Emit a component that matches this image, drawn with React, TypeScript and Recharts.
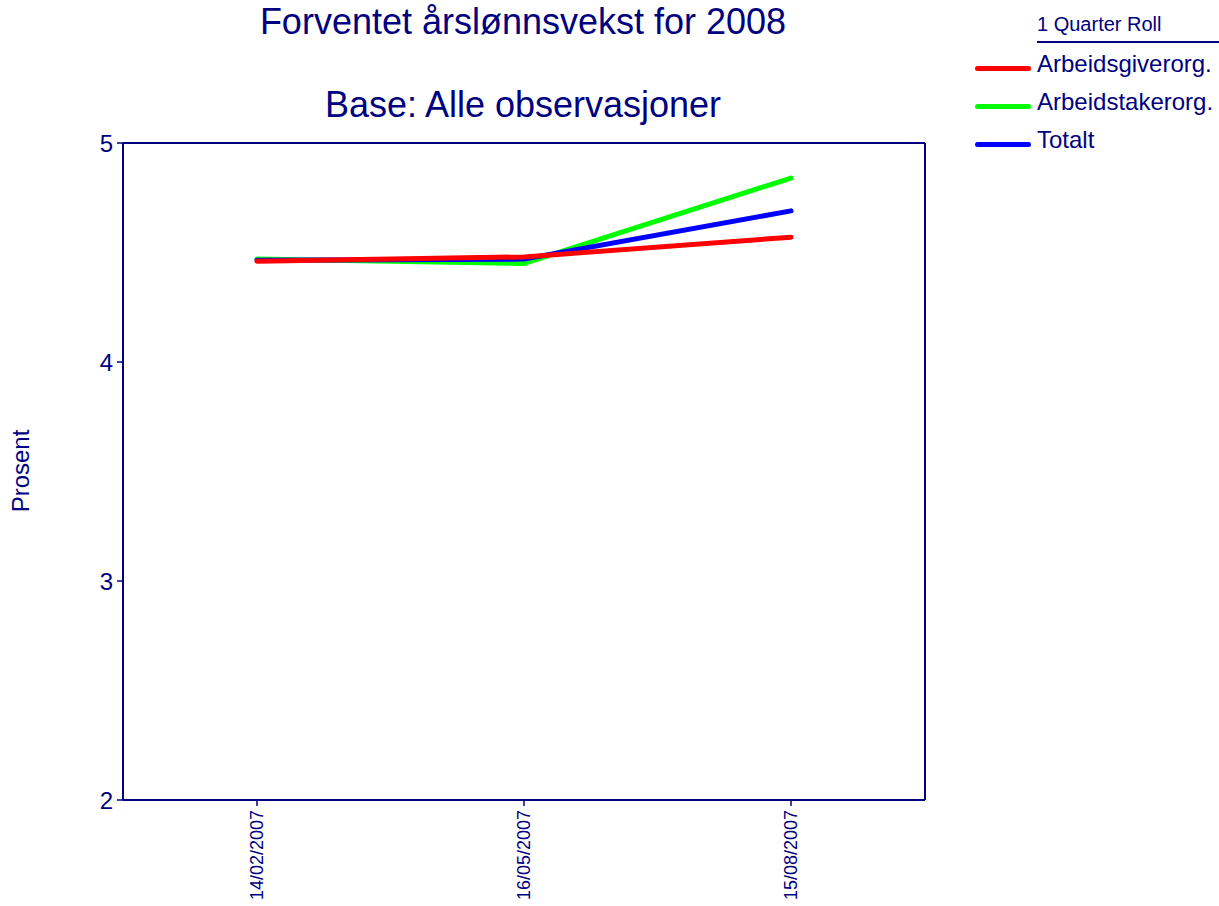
import React from "react";
import { LineChart, Line, XAxis, YAxis, CartesianGrid } from "recharts";

const categories = ["14/02/2007", "16/05/2007", "15/08/2007"];
const arbeidsgiver = [4.46, 4.48, 4.57];
const arbeidstaker = [4.47, 4.45, 4.84];
const totalt = [4.465, 4.47, 4.69];
const yTicks = [2, 3, 4, 5];

const data = categories.map((c, i) => ({
  date: c,
  giver: arbeidsgiver[i],
  taker: arbeidstaker[i],
  total: totalt[i],
}));

const NAVY = "#000080";
const FONT = "'Liberation Sans', Arial, sans-serif";

const legendItems = [
  { label: "Arbeidsgiverorg.", color: "#FF0000" },
  { label: "Arbeidstakerorg.", color: "#00FF00" },
  { label: "Totalt", color: "#0000FF" },
];

const XTick = (props: any) => {
  const { x, y, payload } = props;
  return (
    <text
      x={x}
      y={y + 2}
      transform={`rotate(-90, ${x}, ${y + 2})`}
      textAnchor="end"
      dy="0.36em"
      fill={NAVY}
      fontSize={18}
      fontFamily={FONT}
    >
      {payload.value}
    </text>
  );
};

export default function App() {
  return (
    <div
      style={{
        position: "absolute",
        left: 0,
        top: 0,
        width: 1219,
        height: 906,
        background: "#fff",
        fontFamily: FONT,
        overflow: "hidden",
      }}
    >
      <div
        style={{
          position: "absolute",
          left: 0,
          width: 1046,
          top: 2,
          textAlign: "center",
          fontSize: 36,
          color: NAVY,
          lineHeight: "40px",
        }}
      >
        Forventet årslønnsvekst for 2008
      </div>
      <div
        style={{
          position: "absolute",
          left: 0,
          width: 1046,
          top: 85,
          textAlign: "center",
          fontSize: 36,
          color: NAVY,
          lineHeight: "40px",
        }}
      >
        Base: Alle observasjoner
      </div>
      <div
        style={{
          position: "absolute",
          left: 21,
          top: 471,
          transform: "translate(-50%, -50%) rotate(-90deg)",
          fontSize: 24,
          lineHeight: "28px",
          color: NAVY,
          whiteSpace: "nowrap",
        }}
      >
        Prosent
      </div>
      {/* legend */}
      <div
        style={{
          position: "absolute",
          left: 1037,
          top: 12,
          fontSize: 20,
          color: NAVY,
          lineHeight: "24px",
          whiteSpace: "nowrap",
        }}
      >
        1 Quarter Roll
      </div>
      <div
        style={{
          position: "absolute",
          left: 1037,
          top: 41,
          width: 182,
          height: 2,
          background: NAVY,
        }}
      />
      {legendItems.map((it, i) => (
        <React.Fragment key={it.label}>
          <div
            style={{
              position: "absolute",
              left: 975,
              top: 66 + i * 38,
              width: 56,
              height: 5,
              borderRadius: 3,
              background: it.color,
            }}
          />
          <div
            style={{
              position: "absolute",
              left: 1037,
              top: 50 + i * 38,
              fontSize: 24,
              lineHeight: "28px",
              color: NAVY,
              whiteSpace: "nowrap",
            }}
          >
            {it.label}
          </div>
        </React.Fragment>
      ))}
      <div style={{ position: "absolute", left: 0, top: 0 }}>
        <LineChart
          width={1219}
          height={906}
          data={data}
          margin={{ top: 143, right: 294, bottom: 46, left: 63 }}
        >
          <CartesianGrid
            stroke={NAVY}
            strokeWidth={2}
            horizontalCoordinatesGenerator={({ offset }: any) => [offset.top]}
            verticalCoordinatesGenerator={({ offset }: any) => [
              offset.left + offset.width,
            ]}
          />
          <XAxis
            dataKey="date"
            type="category"
            padding={{ left: 134, right: 134 }}
            height={60}
            axisLine={{ stroke: NAVY, strokeWidth: 2 }}
            tickLine={{ stroke: NAVY, strokeWidth: 1.5 }}
            tickSize={6}
            tick={<XTick />}
            interval={0}
          />
          <YAxis
            domain={[2, 5]}
            ticks={yTicks}
            width={60}
            axisLine={{ stroke: NAVY, strokeWidth: 2 }}
            tickLine={{ stroke: NAVY, strokeWidth: 1.5 }}
            tickSize={6}
            tickMargin={4}
            tick={{ fill: NAVY, fontSize: 24, fontFamily: FONT }}
            allowDataOverflow
          />
          <Line
            dataKey="taker"
            stroke="#00FF00"
            strokeWidth={5}
            strokeLinecap="round"
            dot={false}
            activeDot={false}
            isAnimationActive={false}
          />
          <Line
            dataKey="total"
            stroke="#0000FF"
            strokeWidth={5}
            strokeLinecap="round"
            dot={false}
            activeDot={false}
            isAnimationActive={false}
          />
          <Line
            dataKey="giver"
            stroke="#FF0000"
            strokeWidth={5}
            strokeLinecap="round"
            dot={false}
            activeDot={false}
            isAnimationActive={false}
          />
        </LineChart>
      </div>
    </div>
  );
}
